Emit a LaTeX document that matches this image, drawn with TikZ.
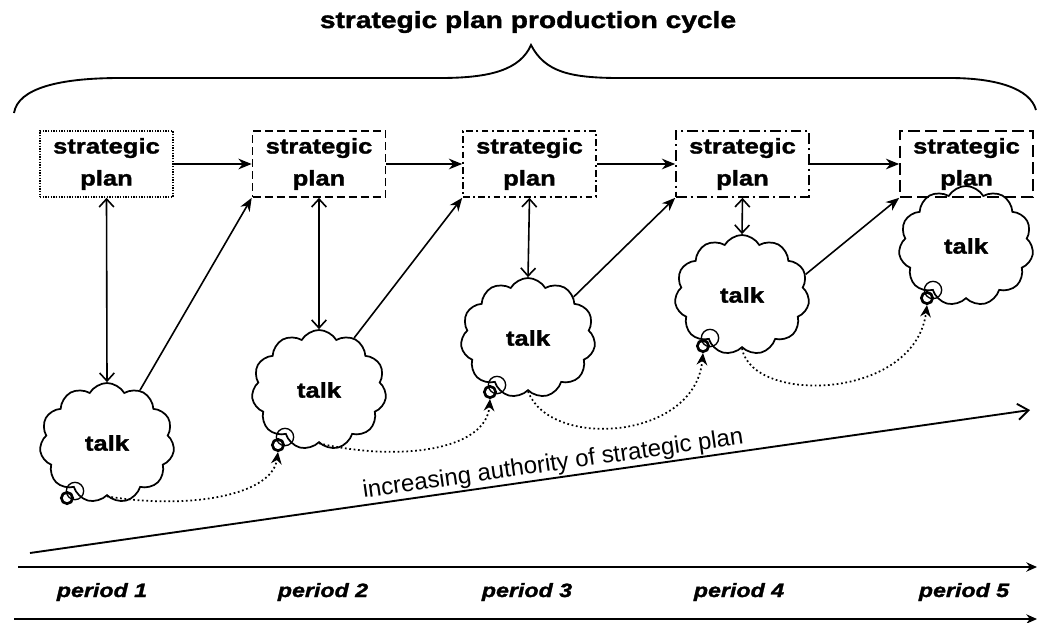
\documentclass[tikz,border=0pt]{standalone}
\usepackage{fontspec}
\setmainfont{Liberation Sans}
\newfontfamily\heavy[FakeStretch=1.2, FakeBold=1.5]{Liberation Sans}
\usetikzlibrary{shapes.symbols,arrows.meta}

\begin{document}
\begin{tikzpicture}[x=0.75pt,y=-0.75pt, line width=1.2pt,
  planbox/.style={draw, minimum width=99.75pt, minimum height=49.5pt, inner sep=0pt, align=center,
    font=\heavy\bfseries\fontsize{16}{24}\selectfont},
  talkcloud/.style={draw, cloud, cloud puffs=11, cloud puff arc=120, cloud ignores aspect,
    minimum width=101pt, minimum height=90pt, inner sep=0pt, line width=1.3pt,
    font=\heavy\bfseries\fontsize{16}{19}\selectfont},
  bubble/.style={draw, circle, inner sep=0pt, minimum size=13pt, line width=1pt},
  knot/.style={draw, circle, inner sep=0pt, minimum size=8.5pt, line width=2pt},
  flow/.style={-{Stealth[length=10pt,width=8pt]}},
  link/.style={{Straight Barb[length=6pt,width=11pt]}-{Straight Barb[length=6pt,width=11pt]}},
  trace/.style={dotted, line width=1.3pt, -{Stealth[length=9pt,width=8pt]}},
  period/.style={font=\heavy\bfseries\itshape\fontsize{14.5}{17}\selectfont}
]
\useasboundingbox (0,0) rectangle (1038,622);

% title and brace
\node[font=\heavy\bfseries\fontsize{17.6}{20}\selectfont] (title) at (528,22) {strategic plan production cycle};
\draw[line width=1.4pt] (14,113) .. controls (18,88) and (60,78) .. (120,78) -- (440,78)
  .. controls (490,78) and (520,70) .. (531,45)
  .. controls (545,72) and (570,78) .. (620,78) -- (950,78)
  .. controls (995,78) and (1030,88) .. (1036,110);

% strategic plans
\node[planbox, dash pattern=on 1pt off 1pt] (sp1) at (106.5,164) {strategic\\plan};
\node[planbox, dash pattern=on 6pt off 3pt] (sp2) at (319,164) {strategic\\plan};
\node[planbox, dash pattern=on 5pt off 2.5pt on 1.5pt off 2.5pt] (sp3) at (529.5,164) {strategic\\plan};
\node[planbox, dash pattern=on 8pt off 3pt on 1.5pt off 3pt] (sp4) at (742.5,164) {strategic\\plan};
\node[planbox, dash pattern=on 9pt off 4pt] (sp5) at (966.5,164) {strategic\\plan};

% talk clouds
\node[talkcloud] (tk1) at (107,443) {talk};
\node[talkcloud] (tk2) at (319,390) {talk};
\node[talkcloud] (tk3) at (528,338) {talk};
\node[talkcloud] (tk4) at (742,295) {talk};
\node[talkcloud] (tk5) at (966,246) {talk};

% bubbles at the foot of each cloud
\node[bubble] (bo1) at (75,491) {};
\node[knot]   (bd1) at (67,498) {};
\node[bubble] (bo2) at (285,437) {};
\node[knot]   (bd2) at (278,445) {};
\node[bubble] (bo3) at (497,385) {};
\node[knot]   (bd3) at (490,392) {};
\node[bubble] (bo4) at (710,338) {};
\node[knot]   (bd4) at (703,346) {};
\node[bubble] (bo5) at (933,290) {};
\node[knot]   (bd5) at (927,298) {};

% plan to plan
\draw[flow] (sp1.east) -- (sp2.west);
\draw[flow] (sp2.east) -- (sp3.west);
\draw[flow] (sp3.east) -- (sp4.west);
\draw[flow] (sp4.east) -- (sp5.west);

% plan <-> talk
\draw[link] (sp1.south) -- (tk1.north);
\draw[link] (sp2.south) -- (tk2.north);
\draw[link] (sp3.south) -- (tk3.north);
\draw[link] (sp4.south) -- (tk4.north);

% talk to next plan
\draw[flow] (tk1.58) -- (sp2.south west);
\draw[flow] (tk2.56) -- (sp3.south west);
\draw[flow] (tk3.42) -- (sp4.south west);
\draw[flow] (tk4.18) -- (sp5.south west);

% talk to next talk
\draw[trace] (tk1.south) .. controls (190,510) and (272,495) .. (bd2.south);
\draw[trace] (tk2.south) .. controls (400,462) and (486,450) .. (bd3.south);
\draw[trace] (tk3.south) .. controls (550,450) and (695,440) .. (bd4.south);
\draw[trace] (tk4.south) .. controls (752,405) and (915,400) .. (bd5.south);

% authority
\coordinate (a0) at (30,553);
\coordinate (a1) at (1030,410);
\draw[line width=1.4pt, -{Straight Barb[length=8pt,width=12pt]}] (a0) -- (a1)
  node[pos=0.525, above, sloped, font=\fontsize{18}{20}\selectfont, inner sep=1pt] {increasing authority of strategic plan};

% periods
\coordinate (p0) at (18,567);
\coordinate (p1) at (1037,567);
\coordinate (q0) at (14,619);
\coordinate (q1) at (1037,619);
\draw[line width=1.4pt, -{Stealth[length=8pt,width=7pt]}] (p0) -- (p1);
\draw[line width=1.4pt, -{Stealth[length=8pt,width=7pt]}] (q0) -- (q1);
\node[period] (pd1) at (102,592) {period 1};
\node[period] (pd2) at (323,592) {period 2};
\node[period] (pd3) at (527,592) {period 3};
\node[period] (pd4) at (739,592) {period 4};
\node[period] (pd5) at (964,592) {period 5};
\end{tikzpicture}
\end{document}
